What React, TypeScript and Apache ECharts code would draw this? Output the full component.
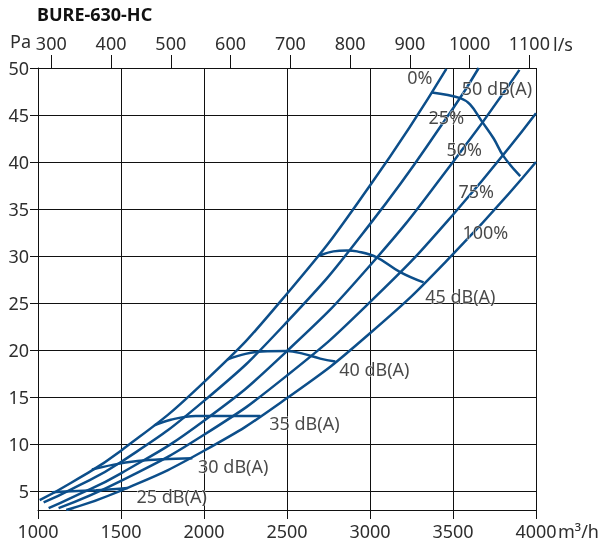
import React, { useEffect, useRef } from "react";
import * as echarts from "echarts";

const chartTitle = "BURE-630-HC";
const yUnit = "Pa";
const topUnit = "l/s";
const bottomUnit = "m³/h";
const lsToM3h = 3.6;

const yTicks = [5, 10, 15, 20, 25, 30, 35, 40, 45, 50];
const topTicks = [300, 400, 500, 600, 700, 800, 900, 1000, 1100];

// damper-position curves (m³/h, Pa)
const flow0 = [1010, 1200, 1500, 2000, 2500, 3000, 3460];
const pa0 = [4.05, 5.9, 9.3, 16.6, 26.0, 37.5, 49.9];
const flow25 = [1034, 1200, 1500, 2000, 2500, 3000, 3500, 3655];
const pa25 = [3.8, 5.2, 8.1, 14.6, 23.0, 33.4, 45.7, 50.0];
const flow50 = [1064, 1200, 1500, 2000, 2500, 3000, 3500, 3900];
const pa50 = [3.2, 4.3, 6.9, 12.5, 19.9, 29.0, 40.0, 49.8];
const flow75 = [1124, 1500, 2000, 2500, 3000, 3500, 4000];
const pa75 = [3.2, 6.1, 11.0, 17.3, 25.1, 34.4, 45.2];
const flow100 = [1170, 1500, 2000, 2500, 3000, 3500, 4000];
const pa100 = [3.0, 5.06, 9.3, 14.9, 21.8, 30.2, 40.0];

// sound level iso-lines
const flow25dB = [1085, 1200, 1350, 1450, 1540];
const pa25dB = [4.9, 5.0, 5.1, 5.2, 5.35];
const flow30dB = [1325, 1450, 1600, 1750, 1930];
const pa30dB = [7.3, 7.8, 8.2, 8.4, 8.5];
const flow35dB = [1700, 1800, 1950, 2150, 2340];
const pa35dB = [12.0, 12.6, 13.0, 13.0, 13.0];
const flow40dB = [2140, 2250, 2350, 2500, 2600, 2700, 2791];
const pa40dB = [19.0, 19.6, 19.85, 19.9, 19.6, 19.1, 18.8];
const flow45dB = [2687, 2780, 2861, 2922, 3038, 3182, 3323];
const pa45dB = [30.0, 30.5, 30.6, 30.5, 29.9, 28.3, 27.2];
const flow50dB = [3373, 3544, 3604, 3675, 3745, 3805, 3905];
const pa50dB = [47.4, 46.8, 46.1, 44.3, 42.5, 40.6, 38.5];

// annotation texts and their anchor points (data coords)
const labelText = ["0%", "25%", "50%", "75%", "100%", "50 dB(A)", "45 dB(A)", "40 dB(A)", "35 dB(A)", "30 dB(A)", "25 dB(A)"];
const labelFlow = [3300, 3460, 3568, 3640, 3695, 3765, 3544, 3026, 2605, 2176, 1805];
const labelPa = [49.06, 44.76, 41.35, 36.96, 32.52, 47.86, 25.77, 18.0, 12.26, 7.73, 4.44];

const curves = [
  [flow0, pa0], [flow25, pa25], [flow50, pa50], [flow75, pa75], [flow100, pa100],
];
const soundLines = [
  [flow25dB, pa25dB], [flow30dB, pa30dB], [flow35dB, pa35dB],
  [flow40dB, pa40dB], [flow45dB, pa45dB], [flow50dB, pa50dB],
];

const BLUE = "#0c4e8a";
const TEXT = "#2e2e2e";
const FONT = "Noto Sans";

export default function App() {
  const ref = useRef<HTMLDivElement>(null);
  useEffect(() => {
    if (!ref.current) return;
    const chart = echarts.init(ref.current, undefined, { renderer: "svg" });
    const zip = (xs: number[], ys: number[]) => xs.map((x, i) => [x, ys[i]]);
    const series: any[] = [];
    curves.forEach(([f, p]) => {
      series.push({
        type: "line", data: zip(f, p), showSymbol: false, smooth: 0.5,
        lineStyle: { color: BLUE, width: 2.5 }, silent: true, z: 3,
      });
    });
    soundLines.forEach(([f, p]) => {
      series.push({
        type: "line", data: zip(f, p), showSymbol: false, smooth: 0.4,
        lineStyle: { color: BLUE, width: 2.5 }, silent: true, z: 3,
      });
    });
    series.push({
      type: "scatter", symbolSize: 0, silent: true, z: 10,
      data: labelText.map((t, i) => [labelFlow[i], labelPa[i], t]),
      label: {
        show: true, position: "inside", formatter: (p: any) => p.data[2],
        color: "#1a1a1a", fontSize: 18, fontFamily: FONT, align: "center", verticalAlign: "middle",
        textBorderColor: "#fff", textBorderWidth: 1,
      },
    });
    const plain = (v: number) => String(v);
    chart.setOption({
      animation: false,
      textStyle: { fontFamily: FONT },
      grid: { left: 38, right: 67, top: 68, bottom: 34, containLabel: false },
      xAxis: [
        {
          type: "value", position: "bottom", min: 1000, max: 4000, interval: 500,
          axisLine: { show: true, lineStyle: { color: "#111", width: 1 } },
          axisTick: { show: true, length: 9, lineStyle: { color: "#111" } },
          axisLabel: { fontSize: 18, color: TEXT, fontFamily: FONT, margin: 12, formatter: plain },
          splitLine: { show: true, lineStyle: { color: "#111", width: 1 } },
        },
        {
          type: "value", position: "top", min: 1000 / lsToM3h, max: 4000 / lsToM3h,
          axisLine: { show: true, lineStyle: { color: "#111", width: 1 } },
          axisTick: { show: true, length: 13, customValues: topTicks, lineStyle: { color: "#111" } },
          axisLabel: { fontSize: 18, color: TEXT, fontFamily: FONT, margin: 16, customValues: topTicks, formatter: plain },
          splitLine: { show: false },
        },
      ],
      yAxis: {
        type: "value", min: 3, max: 50, splitNumber: 10,
        axisLine: { show: true, lineStyle: { color: "#111", width: 1 } },
        axisTick: { show: true, length: 8, customValues: yTicks, lineStyle: { color: "#111" } },
        axisLabel: { fontSize: 18, color: TEXT, fontFamily: FONT, margin: 9, customValues: yTicks, formatter: plain },
        splitLine: { show: true, lineStyle: { color: "#111", width: 1 } },
      },
      graphic: [
        { type: "text", left: 37, top: 5, style: { text: chartTitle, fontSize: 18, fontWeight: "bold", fontFamily: FONT, fill: "#111" } },
        { type: "text", x: 10, y: 41, style: { text: yUnit, fontSize: 18, fontFamily: FONT, fill: TEXT, verticalAlign: "middle" } },
        { type: "text", x: 553, y: 44, style: { text: topUnit, fontSize: 18, fontFamily: FONT, fill: TEXT, verticalAlign: "middle" } },
        { type: "text", x: 558, y: 531, style: { text: bottomUnit, fontSize: 18, fontFamily: FONT, fill: TEXT, verticalAlign: "middle" } },
      ],
      series,
    });
    return () => chart.dispose();
  }, []);
  return <div ref={ref} style={{ position: "fixed", left: 0, top: 0, width: 603, height: 544 }} />;
}
